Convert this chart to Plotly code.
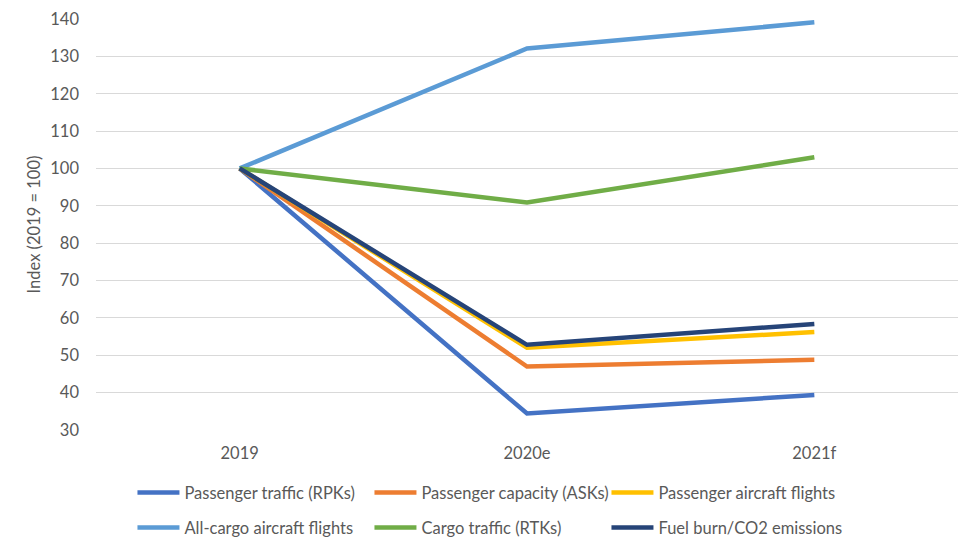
import plotly.graph_objects as go

categories = ["2019", "2020e", "2021f"]
series_names = [
    "Passenger traffic (RPKs)",
    "Passenger capacity (ASKs)",
    "Passenger aircraft flights",
    "All-cargo aircraft flights",
    "Cargo traffic (RTKs)",
    "Fuel burn/CO2 emissions",
]
rpks = [100, 34.4, 39.4]
asks = [100, 47.0, 48.8]
pax_flights = [100, 52.0, 56.2]
cargo_flights = [100, 132.1, 139.1]
rtks = [100, 90.9, 103.0]
fuel = [100, 52.8, 58.4]
series_values = [rpks, asks, pax_flights, cargo_flights, rtks, fuel]
colors = ["#4472C4", "#ED7D31", "#FFC000", "#5B9BD5", "#70AD47", "#264478"]
legend_ids = ["legend", "legend", "legend", "legend2", "legend2", "legend2"]
y_ticks = list(range(30, 141, 10))

FONT = "Lato"
FS = 16.5
GRAY = "#595959"

fig = go.Figure()
for name, vals, col, lg in zip(series_names, series_values, colors, legend_ids):
    fig.add_trace(go.Scatter(
        x=categories, y=vals, mode="lines", name=name,
        line=dict(color=col, width=4.5),
        legend=lg,
    ))

legend_common = dict(
    orientation="h", x=0.0423, xanchor="left", yanchor="middle",
    font=dict(family=FONT, size=FS, color=GRAY),
    entrywidth=180, entrywidthmode="pixels", itemwidth=42,
    bgcolor="rgba(0,0,0,0)", traceorder="normal",
)

fig.update_layout(
    width=968, height=545,
    margin=dict(l=96, r=10, t=19, b=115, autoexpand=False),
    paper_bgcolor="white", plot_bgcolor="white",
    font=dict(family=FONT, size=FS, color=GRAY),
    showlegend=True,
    legend=dict(**legend_common, y=-0.153),
    legend2=dict(**legend_common, y=-0.238),
    xaxis=dict(
        type="category", range=[-0.5, 2.5], automargin=False,
        showgrid=False, zeroline=False, showline=False,
        ticks="outside", ticklen=8, tickcolor="rgba(0,0,0,0)",
        tickfont=dict(family=FONT, size=FS, color=GRAY),
    ),
    yaxis=dict(
        range=[30, 140], tickvals=y_ticks, automargin=False,
        showgrid=True, gridcolor="#D9D9D9", gridwidth=1.3,
        zeroline=False, showline=False,
        ticklabelstandoff=16,
        tickfont=dict(family=FONT, size=FS, color=GRAY),
        title=dict(text="Index (2019 = 100)", font=dict(family=FONT, size=FS, color=GRAY), standoff=5),
    ),
)

fig.write_html(
    "out.html",
    config={"displayModeBar": False},
    post_script="document.body.style.margin='0';document.body.style.overflow='hidden';",
)
